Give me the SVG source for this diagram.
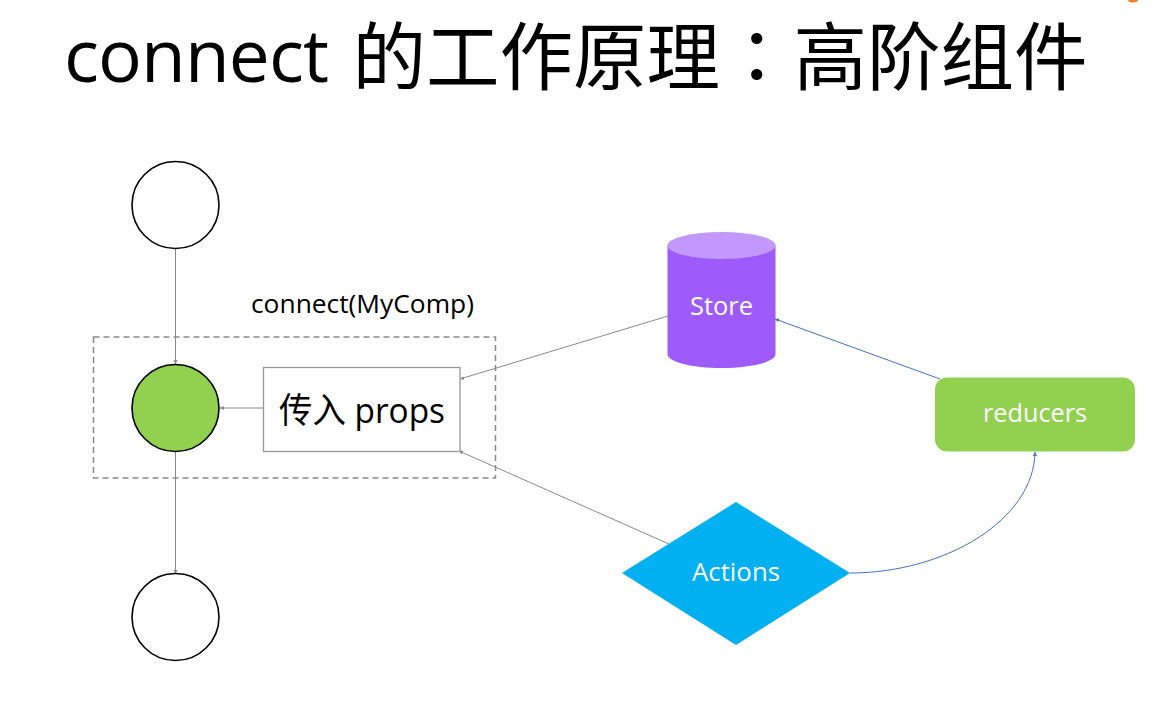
<svg xmlns="http://www.w3.org/2000/svg" width="1160" height="705" viewBox="0 0 1160 705">
<style>
text{font-family:"Open Sans","Noto Sans CJK SC",sans-serif}
.t{fill:#000}
.cj{font-family:"Noto Sans CJK TC",sans-serif}
.w{fill:#fff;font-size:26px;text-anchor:middle}
.c{fill:none;stroke-width:1}
.g{stroke:#8a8a8a}
.b{stroke:#4472c4}
.o{fill:#fff;stroke:#000;stroke-width:1.6}
</style>
<defs>
<marker id="ag" markerWidth="5" markerHeight="5" refX="4" refY="2" orient="auto" markerUnits="userSpaceOnUse"><path d="M0 0L4 2L0 4z" fill="#8a8a8a"/></marker>
<marker id="ab" markerWidth="5" markerHeight="5" refX="4" refY="2" orient="auto" markerUnits="userSpaceOnUse"><path d="M0 0L4 2L0 4z" fill="#4472c4"/></marker>
</defs>
<rect width="1160" height="705" fill="#fff"/>
<ellipse cx="1133" cy="0" rx="5" ry="2.500" fill="#f58220"/>
<text id="title" class="t" x="64" y="82" font-size="73"><tspan letter-spacing="-0.900">connect </tspan><tspan x="352.500" y="84" font-size="73.500">的工作原理</tspan><tspan class="cj" font-size="73.500">：</tspan><tspan font-size="73.500">高阶组件</tspan></text>
<g id="connectors">
<path class="c g" d="M175.500 249V364" marker-end="url(#ag)"/>
<path class="c g" d="M175.500 452V574" marker-end="url(#ag)"/>
<path class="c g" d="M263 408H220" marker-end="url(#ag)"/>
<path class="c g" d="M668 316L460 379" marker-end="url(#ag)"/>
<path class="c g" d="M669 544L459 451" marker-end="url(#ag)"/>
<path class="c b" d="M940 379L775 319" marker-end="url(#ab)"/>
<path class="c b" d="M850 573C945 573 1034 520 1035 452" marker-end="url(#ab)"/>
</g>
<g id="wrapper"><rect x="93.500" y="337" width="402" height="141" fill="none" stroke="#8a8a8a" stroke-width="1.500" stroke-dasharray="6 4"/></g>
<text id="wrapper-label" class="t" x="251" y="313" font-size="25.500" textLength="223" lengthAdjust="spacingAndGlyphs">connect(MyComp)</text>
<g id="circle-top"><circle class="o" cx="175.500" cy="205" r="43.500"/></g>
<g id="circle-middle"><circle cx="175.500" cy="408" r="43.500" fill="#92d050" stroke="#000" stroke-width="1.600"/></g>
<g id="circle-bottom"><circle class="o" cx="175.500" cy="617" r="43.500"/></g>
<g id="props"><rect x="263.500" y="367.500" width="196.500" height="84" fill="#fff" stroke="#999" stroke-width="1.300"/>
<text class="t" x="362" y="423" font-size="35" text-anchor="middle" textLength="166" lengthAdjust="spacingAndGlyphs">传入 props</text></g>
<g id="store">
<path d="M667.500 245V354C667.500 362 692 368 721.500 368S775.500 362 775.500 354V245z" fill="#9e5afa"/>
<ellipse cx="721.500" cy="245.500" rx="54" ry="13.500" fill="#c298fc"/>
<text class="w" x="721.500" y="315" textLength="63" lengthAdjust="spacingAndGlyphs">Store</text></g>
<g id="reducers"><rect x="935" y="377.500" width="200" height="74" rx="12" fill="#92d050"/>
<text class="w" x="1035" y="422" textLength="104" lengthAdjust="spacingAndGlyphs">reducers</text></g>
<g id="actions"><path d="M736 502L850 573L736 645L622 573z" fill="#00b0f0"/>
<text class="w" x="736" y="581" textLength="88" lengthAdjust="spacingAndGlyphs">Actions</text></g>
</svg>
